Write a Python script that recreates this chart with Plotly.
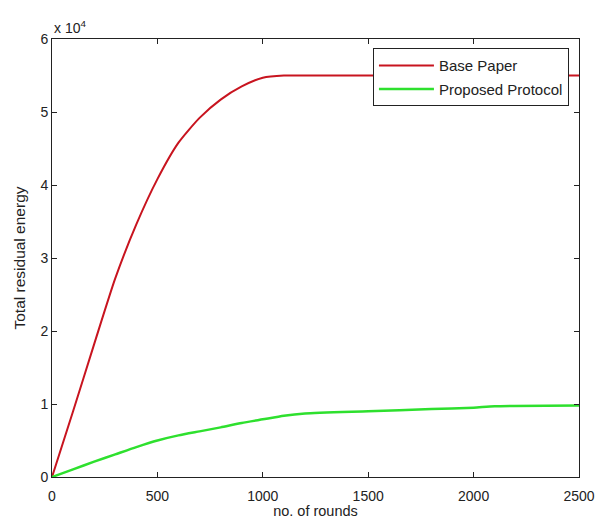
import plotly.graph_objects as go

rounds_base = [0, 100, 200, 300, 400, 500, 600, 700, 800, 900, 1000, 1100, 1200, 1500, 2000, 2500]
energy_base = [0, 9000, 18200, 27200, 34600, 40800, 45800, 49200, 51700, 53500, 54700, 55000, 55000, 55000, 55000, 55000]

rounds_prop = [0, 100, 200, 300, 400, 500, 600, 700, 800, 900, 1000, 1100, 1200, 1500, 1800, 2000, 2100, 2500]
energy_prop = [0, 1050, 2100, 3100, 4100, 5000, 5700, 6250, 6800, 7400, 7900, 8400, 8700, 9000, 9300, 9500, 9700, 9800]

x_ticks = [0, 500, 1000, 1500, 2000, 2500]
y_ticks = [0, 10000, 20000, 30000, 40000, 50000, 60000]
y_tick_labels = ["0", "1", "2", "3", "4", "5", "6"]

FAM = "Liberation Sans, Arial, sans-serif"
tick_font = dict(family=FAM, size=14, color="#222")
title_font = dict(family=FAM, size=14.5, color="#222")

fig = go.Figure()
fig.add_trace(go.Scatter(x=rounds_base, y=energy_base, mode="lines", name="Base Paper", legendgroup="a",
                         line=dict(color="#c8141f", width=2, shape="spline", smoothing=0.6)))
fig.add_trace(go.Scatter(x=rounds_prop, y=energy_prop, mode="lines", name="Proposed Protocol", legendgroup="b",
                         line=dict(color="#2ee02e", width=2.5, shape="spline", smoothing=0.6)))

axis_common = dict(showline=True, linecolor="#222", linewidth=1, mirror="ticks", ticks="inside",
                   ticklen=5, tickcolor="#222", showgrid=False, zeroline=False, tickfont=tick_font,
                   automargin=False)

fig.update_layout(
    width=602, height=519,
    margin=dict(l=52, r=23, t=39, b=42, autoexpand=False),
    paper_bgcolor="white", plot_bgcolor="white",
    font=tick_font,
    xaxis=dict(range=[0, 2500], tickvals=x_ticks, ticklabelstandoff=6, **axis_common,
               title=dict(text="no. of rounds", font=title_font, standoff=4)),
    yaxis=dict(range=[0, 60000], tickvals=y_ticks, ticktext=y_tick_labels, **axis_common,
               title=dict(text="Total residual energy", font=dict(family=FAM, size=15.5, color="#222"), standoff=10)),
    legend=dict(x=0.609, y=0.979, xanchor="left", yanchor="top", bordercolor="#222", borderwidth=1,
                bgcolor="white", font=dict(family=FAM, size=15, color="#222"),
                tracegroupgap=1, itemwidth=55),
    showlegend=True,
    annotations=[dict(text="x 10<sup>4</sup>", xref="paper", yref="paper", x=0, y=1.0, xanchor="left",
                      yanchor="bottom", showarrow=False, font=dict(family=FAM, size=14, color="#222"), yshift=1)],
)

fig.write_html("out.html")
